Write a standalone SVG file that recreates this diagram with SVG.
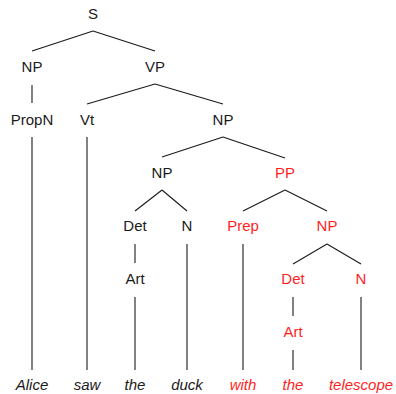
<svg xmlns="http://www.w3.org/2000/svg" width="396" height="394" viewBox="0 0 396 394">
<style>
text{font-family:"Liberation Sans",Arial,sans-serif;font-size:15px;fill:#1a1a1a;text-anchor:middle}
.r{fill:#ff1f1f}
.w{font-style:italic}
#edges line{stroke:#1a1a1a;stroke-width:1.1}
</style>
<rect width="396" height="394" fill="#fff"/>
<g id="edges">
<line x1="93" y1="31" x2="32" y2="51"/>
<line x1="93" y1="31" x2="155" y2="51"/>
<line x1="32" y1="85" x2="32" y2="103"/>
<line x1="155" y1="84" x2="87" y2="104"/>
<line x1="155" y1="84" x2="223" y2="104"/>
<line x1="32" y1="137" x2="32" y2="370"/>
<line x1="87" y1="137" x2="87" y2="370"/>
<line x1="223" y1="137" x2="162" y2="157"/>
<line x1="223" y1="137" x2="285" y2="158"/>
<line x1="162" y1="190" x2="135" y2="211"/>
<line x1="162" y1="190" x2="187" y2="211"/>
<line x1="285" y1="190" x2="243" y2="211"/>
<line x1="285" y1="190" x2="327" y2="211"/>
<line x1="135" y1="244" x2="135" y2="263"/>
<line x1="135" y1="297" x2="135" y2="370"/>
<line x1="187" y1="244" x2="187" y2="370"/>
<line x1="243" y1="244" x2="243" y2="370"/>
<line x1="327" y1="244" x2="293" y2="264"/>
<line x1="327" y1="244" x2="361" y2="264"/>
<line x1="293" y1="297" x2="293" y2="316"/>
<line x1="293" y1="350" x2="293" y2="370"/>
<line x1="361" y1="297" x2="361" y2="370"/>
</g>
<g id="S"><text x="93" y="19">S</text></g>
<g id="NP1"><text x="32" y="72">NP</text></g>
<g id="VP"><text x="155" y="72">VP</text></g>
<g id="PropN"><text x="32" y="125">PropN</text></g>
<g id="Vt"><text x="87" y="125">Vt</text></g>
<g id="NP2"><text x="223" y="125">NP</text></g>
<g id="NP3"><text x="162" y="178">NP</text></g>
<g id="PP"><text class="r" x="285" y="178">PP</text></g>
<g id="Det1"><text x="135" y="231">Det</text></g>
<g id="N1"><text x="187" y="231">N</text></g>
<g id="Prep"><text class="r" x="243" y="231">Prep</text></g>
<g id="NP4"><text class="r" x="327" y="231">NP</text></g>
<g id="Art1"><text x="135" y="284">Art</text></g>
<g id="Det2"><text class="r" x="293" y="284">Det</text></g>
<g id="N2"><text class="r" x="361" y="284">N</text></g>
<g id="Art2"><text class="r" x="293" y="337">Art</text></g>
<g id="w1"><text class="w" x="32" y="390">Alice</text></g>
<g id="w2"><text class="w" x="87" y="390">saw</text></g>
<g id="w3"><text class="w" x="135" y="390">the</text></g>
<g id="w4"><text class="w" x="187" y="390">duck</text></g>
<g id="w5"><text class="w r" x="243" y="390">with</text></g>
<g id="w6"><text class="w r" x="293" y="390">the</text></g>
<g id="w7"><text class="w r" x="361" y="390">telescope</text></g>
</svg>
